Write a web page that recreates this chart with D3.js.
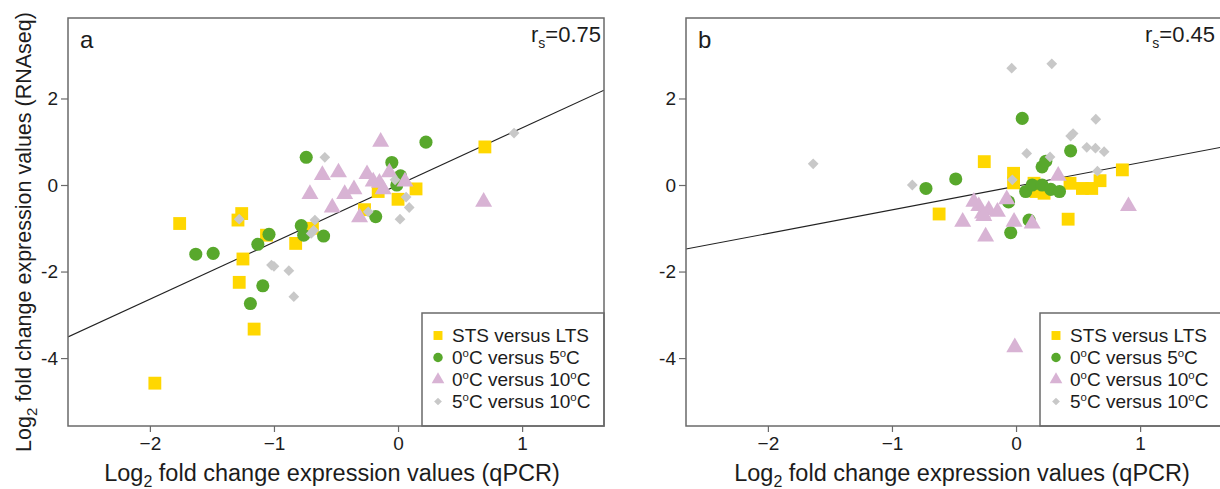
<!DOCTYPE html>
<html><head><meta charset="utf-8">
<script src="https://cdn.jsdelivr.net/npm/d3@7"></script>
<style>
body{margin:0;background:#fff}
svg{display:block;font-family:"Liberation Sans",Arial,sans-serif}
</style>
</head><body>
<svg id="c" width="1220" height="489"></svg>
<script>
// ---------- data ----------
const xTicks = [-2, -1, 0, 1];
const xTickLabels = ["\u22122", "\u22121", "0", "1"];
const yTicks = [-4, -2, 0, 2];
const yTickLabels = ["-4", "-2", "0", "2"];
const seriesNames = ["STS versus LTS", "0°C versus 5°C", "0°C versus 10°C", "5°C versus 10°C"];
const seriesColors = ["#FFD700", "#58A82C", "#D8B3D4", "#C8C8C8"];
const panelLetters = ["a", "b"];
const rsValues = ["0.75", "0.45"];
const fitA = [1.32, 0.0];     // slope, intercept
const fitB = [0.545, -0.03];

// panel a
const aSTSx = [-1.96, -1.76, -1.26, -1.29, -1.25, -1.28, -1.16, -1.06, -0.825, -0.69, -0.27, -0.16, 0.0, 0.145, 0.70];
const aSTSy = [-4.58, -0.89, -0.66, -0.81, -1.71, -2.25, -3.33, -1.16, -1.35, -1.0, -0.57, -0.15, -0.33, -0.09, 0.88];
const a05x = [-1.63, -1.49, -1.13, -1.04, -1.09, -1.19, -0.78, -0.76, -0.60, -0.74, -0.18, -0.05, 0.02, -0.01, 0.225];
const a05y = [-1.60, -1.58, -1.37, -1.14, -2.33, -2.74, -0.94, -1.16, -1.18, 0.64, -0.73, 0.52, 0.21, 0.0, 0.99];
const a010x = [-0.14, -0.61, -0.48, -0.71, -0.53, -0.43, -0.355, -0.31, -0.25, -0.2, -0.15, -0.12, -0.07, 0.056, 0.69];
const a010y = [1.0, 0.23, 0.29, -0.21, -0.52, -0.21, -0.1, -0.75, 0.25, 0.08, 0.05, -0.1, 0.29, 0.08, -0.39];
const a510x = [-0.59, -1.28, -1.02, -1.0, -0.88, -0.84, -0.67, -0.70, -0.68, -0.24, -0.024, 0.065, 0.09, 0.016, 0.935];
const a510y = [0.64, -0.79, -1.85, -1.88, -1.98, -2.58, -0.81, -1.12, -1.05, -0.62, 0.12, -0.28, -0.52, -0.79, 1.2];

// panel b
const bSTSx = [-0.62, -0.256, -0.02, -0.02, 0.145, 0.16, 0.226, 0.435, 0.535, 0.61, 0.677, 0.857, 0.42];
const bSTSy = [-0.67, 0.54, 0.27, 0.05, 0.04, -0.15, -0.19, 0.04, -0.08, -0.08, 0.1, 0.35, -0.79];
const b05x = [-0.726, -0.486, -0.06, -0.043, 0.05, 0.078, 0.105, 0.13, 0.21, 0.21, 0.24, 0.28, 0.35, 0.44];
const b05y = [-0.08, 0.14, -0.39, -1.10, 1.54, -0.15, -0.81, 0.0, 0.0, 0.42, 0.55, -0.1, -0.15, 0.79];
const b010x = [-0.43, -0.34, -0.30, -0.27, -0.22, -0.15, -0.245, -0.075, -0.016, 0.13, 0.34, 0.906, -0.01, -0.26];
const b010y = [-0.85, -0.39, -0.49, -0.66, -0.58, -0.62, -1.19, -0.33, -0.85, -0.89, 0.21, -0.49, -3.75, -0.72];
const b510x = [-1.635, -0.836, -0.035, 0.288, 0.643, 0.46, 0.44, 0.086, 0.274, 0.57, 0.64, 0.71, 0.656, -0.03];
const b510y = [0.49, 0.0, 2.70, 2.80, 1.52, 1.19, 1.13, 0.73, 0.65, 0.87, 0.85, 0.77, 0.32, 0.12];

const xDomain = [-2.66, 1.66];
const yDomain = [-5.57, 3.86];

// ---------- drawing ----------
const svg = d3.select("#c");
const TOP = 18, BOTTOM = 426;
const frameColor = "#6a6a6a";
const textColor = "#1c1c1c";

const symTypes = [d3.symbolSquare, d3.symbolCircle, d3.symbolTriangle, d3.symbolSquare];
const symSizes = [165, 135, 125, 58];
const legSizes = [80, 70, 70, 30];
const symRot = [0, 0, 0, 45];

function degText(sel, str, size) {
  const parts = str.split("°");
  parts.forEach((p, i) => {
    if (i > 0) {
      sel.append("tspan").attr("dy", -7).attr("font-size", size * 0.6).text("o");
      sel.append("tspan").attr("dy", 7).attr("font-size", size).text(p);
    } else {
      sel.append("tspan").attr("font-size", size).text(p);
    }
  });
}

function drawPanel(idx, left, right, series, fit, showYTitle, titleCx) {
  const x = d3.scaleLinear().domain(xDomain).range([left, right]);
  const y = d3.scaleLinear().domain(yDomain).range([BOTTOM, TOP]);
  const g = svg.append("g");
  const clipId = "clip" + idx;
  g.append("clipPath").attr("id", clipId).append("rect")
    .attr("x", left).attr("y", TOP).attr("width", right - left).attr("height", BOTTOM - TOP);

  // axes
  const xa = g.append("g").attr("transform", `translate(0,${BOTTOM})`)
    .call(d3.axisBottom(x).tickValues(xTicks).tickSize(6).tickPadding(5)
      .tickFormat((d, i) => xTickLabels[i]));
  const ya = g.append("g").attr("transform", `translate(${left},0)`)
    .call(d3.axisLeft(y).tickValues(yTicks).tickSize(7).tickPadding(3)
      .tickFormat((d, i) => yTickLabels[i]));
  [xa, ya].forEach(a => {
    a.select(".domain").remove();
    a.selectAll("line").attr("stroke", frameColor).attr("stroke-width", 1.2);
    a.selectAll("text").attr("fill", textColor).attr("font-size", 19)
      .attr("font-family", "Liberation Sans, Arial, sans-serif");
  });

  const plot = g.append("g").attr("clip-path", `url(#${clipId})`);
  // regression line
  plot.append("line")
    .attr("x1", x(xDomain[0])).attr("y1", y(fit[0] * xDomain[0] + fit[1]))
    .attr("x2", x(xDomain[1])).attr("y2", y(fit[0] * xDomain[1] + fit[1]))
    .attr("stroke", "#222").attr("stroke-width", 1.1);

  // points
  series.forEach((s, k) => {
    const pts = s[0].map((v, i) => [v, s[1][i]]);
    plot.append("g").selectAll("path").data(pts).join("path")
      .attr("d", d3.symbol().type(symTypes[k]).size(symSizes[k]))
      .attr("transform", d => `translate(${x(d[0])},${y(d[1])}) rotate(${symRot[k]})`)
      .attr("fill", seriesColors[k]);
  });

  // legend
  const lx = right - 182, ly = 313;
  g.append("rect").attr("x", lx).attr("y", ly).attr("width", right - lx).attr("height", BOTTOM - ly)
    .attr("fill", "#fff").attr("stroke", frameColor).attr("stroke-width", 1.5);
  const baselines = [342, 364, 386, 408];
  seriesNames.forEach((name, k) => {
    g.append("path")
      .attr("d", d3.symbol().type(symTypes[k]).size(legSizes[k]))
      .attr("transform", `translate(${lx + 16},${baselines[k] - 6.5}) rotate(${symRot[k]})`)
      .attr("fill", seriesColors[k]);
    const t = g.append("text").attr("x", lx + 30).attr("y", baselines[k]).attr("fill", textColor);
    degText(t, name, 19);
  });

  // frame
  g.append("rect").attr("x", left).attr("y", TOP).attr("width", right - left).attr("height", BOTTOM - TOP)
    .attr("fill", "none").attr("stroke", frameColor).attr("stroke-width", 1.5);

  // panel letter
  g.append("text").attr("x", left + 12).attr("y", 48).attr("font-size", 24).attr("fill", textColor)
    .text(panelLetters[idx]);
  // r_s
  const rt = g.append("text").attr("x", Math.min(right, 1218) - 3).attr("y", 42)
    .attr("text-anchor", "end").attr("fill", textColor).attr("font-size", 22);
  rt.append("tspan").text("r");
  rt.append("tspan").attr("dy", 6).attr("font-size", 14).text("s");
  rt.append("tspan").attr("dy", -6).text("=" + rsValues[idx]);

  // x title
  const xt = g.append("text").attr("x", titleCx).attr("y", 481).attr("text-anchor", "middle")
    .attr("fill", textColor).attr("font-size", 23.5);
  xt.append("tspan").text("Log");
  xt.append("tspan").attr("dy", 6).attr("font-size", 16).text("2");
  xt.append("tspan").attr("dy", -6).text(" fold change expression values (qPCR)");

  if (showYTitle) {
    const yt = g.append("text").attr("transform", "translate(31,232) rotate(-90)")
      .attr("text-anchor", "middle").attr("fill", textColor).attr("font-size", 21.5);
    yt.append("tspan").text("Log");
    yt.append("tspan").attr("dy", 6).attr("font-size", 15).text("2");
    yt.append("tspan").attr("dy", -6).text(" fold change expression values (RNAseq)");
  }
}

drawPanel(0, 68, 604,
  [[aSTSx, aSTSy], [a05x, a05y], [a010x, a010y], [a510x, a510y]], fitA, true, 332);
drawPanel(1, 686, 1222,
  [[bSTSx, bSTSy], [b05x, b05y], [b010x, b010y], [b510x, b510y]], fitB, false, 962);
</script>
</body></html>
